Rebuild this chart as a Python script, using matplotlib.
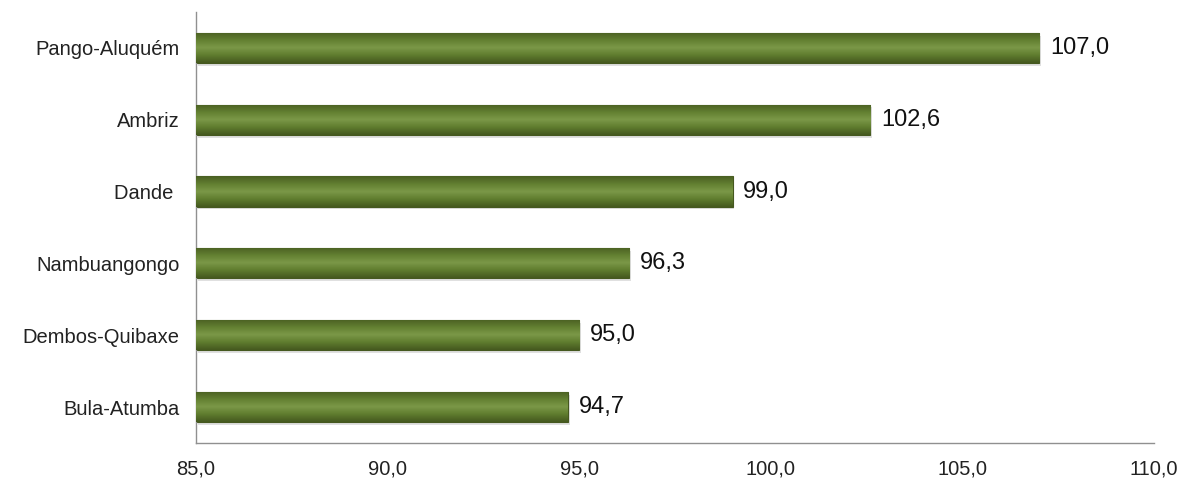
import numpy as np
import matplotlib.pyplot as plt
from matplotlib.colors import LinearSegmentedColormap

# Data, bottom to top as drawn
regions = ["Bula-Atumba", "Dembos-Quibaxe", "Nambuangongo", "Dande ", "Ambriz", "Pango-Aluquém"]
values = [94.7, 95.0, 96.3, 99.0, 102.6, 107.0]
xticks = [85, 90, 95, 100, 105, 110]

plt.rcParams['font.family'] = ['Liberation Sans', 'DejaVu Sans']

fig = plt.figure(figsize=(11.82, 4.79), dpi=100)
ax = fig.add_axes([0.1658, 0.0752, 0.8106, 0.9]) 

ypos = np.arange(len(regions))
left = 85
bars = ax.barh(ypos, [v - left for v in values], left=left, height=0.42,
               color="#5a7429", edgecolor="#45581f", linewidth=0.8, zorder=2)

# vertical gradient inside each bar (light top, dark bottom)
cmap = LinearSegmentedColormap.from_list("olive", ["#45591f", "#5f7c2e", "#7b9848", "#627f31", "#4a5f22"])
grad = np.linspace(0, 1, 64).reshape(-1, 1)
for b in bars:
    x0, y0 = b.get_x(), b.get_y()
    w, h = b.get_width(), b.get_height()
    # soft shadow under the bar
    ax.barh(y0 + h / 2 - 0.04, w, left=x0 + 0.05, height=h, color="#000000",
            alpha=0.12, linewidth=0, zorder=1)
    im = ax.imshow(grad, extent=[x0, x0 + w, y0, y0 + h], aspect="auto",
                   cmap=cmap, origin="lower", zorder=3)
    im.set_clip_path(b)

for y, v in zip(ypos, values):
    ax.text(v + 0.28, y, f"{v:.1f}".replace(".", ","), va="center", ha="left",
            fontsize=17, color="#111111")

ax.set_xlim(85, 110)
ax.set_ylim(-0.5, len(regions) - 0.5)
ax.set_xticks(xticks)
ax.set_xticklabels([f"{t:.1f}".replace(".", ",") for t in xticks], fontsize=14.5, color="#222222")
ax.set_yticks(ypos)
ax.set_yticklabels(regions, fontsize=14.5, color="#222222")
ax.tick_params(axis="x", length=0, pad=12)
ax.tick_params(axis="y", length=0, pad=12)

for s in ["top", "right"]:
    ax.spines[s].set_visible(False)
for s in ["left", "bottom"]:
    ax.spines[s].set_color("#909090")
    ax.spines[s].set_linewidth(1)

fig.savefig("out.png", dpi=100)
